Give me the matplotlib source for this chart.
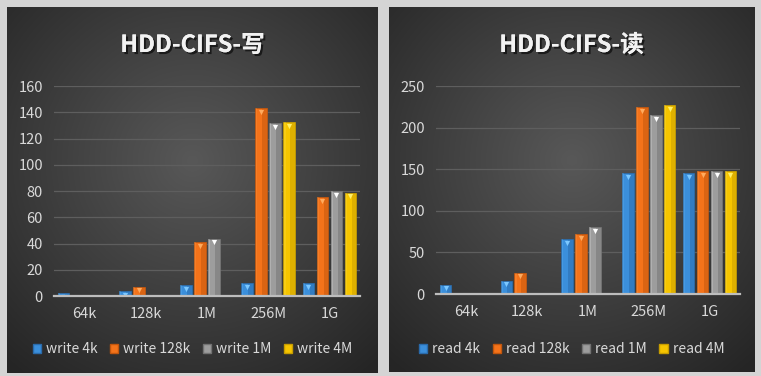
import numpy as np
import matplotlib.pyplot as plt
import matplotlib.patheffects as pe
from matplotlib.patches import Patch

plt.rcParams['font.family'] = ['Noto Sans CJK SC', 'DejaVu Sans']

categories = ['64k', '128k', '1M', '256M', '1G']

# write throughput (MB/s), nan = not measured
write_4k = [2, 3.8, 8.4, 9.9, 9.9]
write_128k = [np.nan, 7.1, 41, 143.4, 75.4]
write_1m = [np.nan, np.nan, 43.7, 131.7, 80]
write_4m = [np.nan, np.nan, np.nan, 132.7, 78.7]

read_4k = [11.2, 16, 65.6, 145.6, 145.6]
read_128k = [np.nan, 25.6, 72.4, 224.8, 148]
read_1m = [np.nan, np.nan, 80.8, 215.2, 148]
read_4m = [np.nan, np.nan, np.nan, 227.2, 148]

write_labels = ['write 4k', 'write 128k', 'write 1M', 'write 4M']
read_labels = ['read 4k', 'read 128k', 'read 1M', 'read 4M']

# (main, dark side, top highlight)
palette = [
    ('#3b8fdb', '#2a6bab', '#7cc8ff'),
    ('#f4731a', '#c2560d', '#ffab5e'),
    ('#9d9d9d', '#727272', '#ffffff'),
    ('#f6c500', '#c79d00', '#fff06a'),
]

W, H = 761, 376
fig = plt.figure(figsize=(W / 100, H / 100), dpi=100)
fig.patch.set_facecolor('#d4d4d4')


def panel_bg(rect):
    bg = fig.add_axes(rect)
    yy, xx = np.mgrid[0:1:300j, 0:1:300j]
    r = np.sqrt((xx - 0.5) ** 2 + (yy - 0.42) ** 2)
    r = np.clip(r / 0.75, 0, 1)
    lo = np.array([0x58, 0x58, 0x58]) / 255
    hi = np.array([0x25, 0x25, 0x25]) / 255
    img = lo[None, None, :] * (1 - r[..., None]) + hi[None, None, :] * r[..., None]
    bg.imshow(img, aspect='auto', extent=[0, 1, 0, 1], origin='upper')
    bg.set_axis_off()
    return bg


def draw_panel(panel_rect, ax_rect, series, labels, title, ymax, ystep):
    panel_bg(panel_rect)
    ax = fig.add_axes(ax_rect)
    ax.set_facecolor('none')
    x = np.arange(len(categories))
    slot, bw = 0.229, 0.19
    handles = []
    for j, vals in enumerate(series):
        main, dark, light = palette[j]
        vals = np.array(vals, dtype=float)
        xs = x + (j - 1.5) * slot
        ok = ~np.isnan(vals)
        ax.bar(xs[ok], vals[ok], bw, color=main, edgecolor=dark, linewidth=0.5,
               zorder=3)
        # darker right side for the bevel look
        ax.bar(xs[ok] + bw * 0.3, vals[ok], bw * 0.4, color=dark, alpha=0.5,
               zorder=3, linewidth=0)
        ax.bar(xs[ok] - bw * 0.4, vals[ok], bw * 0.16, color=light, alpha=0.2,
               zorder=3, linewidth=0)
        # little bevel triangle just under the top edge
        cap = ymax * 0.018
        ax.scatter(xs[ok], vals[ok] - cap, marker='v', s=14, color=light,
                   zorder=4, linewidths=0)
        handles.append(Patch(facecolor=main, edgecolor=dark, label=labels[j]))

    ax.set_xlim(-0.5, len(categories) - 0.5)
    ax.set_ylim(0, ymax)
    ax.set_yticks(np.arange(0, ymax + 1, ystep))
    ax.set_xticks(x)
    ax.set_xticklabels(categories)
    ax.yaxis.grid(True, color='#5e5e5e', linewidth=0.9, zorder=0)
    ax.set_axisbelow(True)
    for s in ['top', 'right', 'left']:
        ax.spines[s].set_visible(False)
    ax.spines['bottom'].set_color('#bdbdbd')
    ax.spines['bottom'].set_linewidth(1.6)
    ax.spines['bottom'].set_zorder(5)
    ax.tick_params(length=0, colors='#d9d9d9', labelsize=10.5)
    ax.tick_params(axis='x', pad=8)
    ax.tick_params(axis='y', pad=8)

    cx = panel_rect[0] + panel_rect[2] / 2
    fig.text(cx, 1 - 45 / H, title, ha='center', va='center', color='#f2f2f2',
             fontsize=17, fontweight='bold',
             path_effects=[pe.withSimplePatchShadow(offset=(1.5, -1.5),
                                                    shadow_rgbFace='black', alpha=0.6),
                           pe.Normal()])
    fig.legend(handles=handles, loc='center', bbox_to_anchor=(cx, 1 - 349 / H),
               ncol=4, frameon=False, fontsize=10, labelcolor='#d9d9d9',
               handlelength=0.6, handleheight=0.6, handletextpad=0.35,
               columnspacing=0.9)
    return ax


draw_panel([7 / W, 3 / H, 371 / W, 366 / H],
           [54 / W, 1 - 296 / H, 306 / W, 210 / H],
           [write_4k, write_128k, write_1m, write_4m], write_labels,
           'HDD-CIFS-写', 160, 20)
draw_panel([389 / W, 4 / H, 365 / W, 365 / H],
           [436 / W, 1 - 294 / H, 304 / W, 208 / H],
           [read_4k, read_128k, read_1m, read_4m], read_labels,
           'HDD-CIFS-读', 250, 50)

fig.savefig('out.png', dpi=100, facecolor=fig.get_facecolor())
